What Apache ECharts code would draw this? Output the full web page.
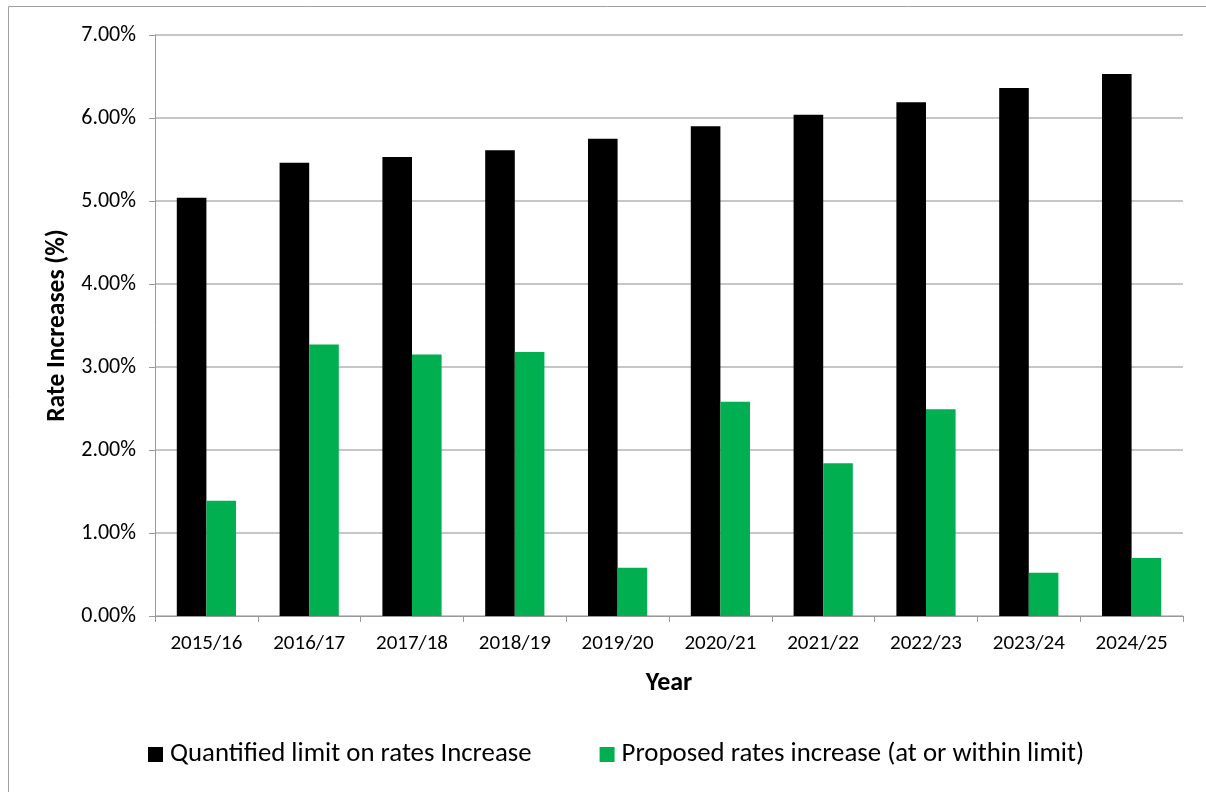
<!DOCTYPE html>
<html>
<head>
<meta charset="utf-8">
<script src="https://cdn.jsdelivr.net/npm/echarts@6/dist/echarts.min.js"></script>
<style>
  html, body { margin: 0; padding: 0; background: #fff; }
  #chart { width: 1206px; height: 792px; }
</style>
</head>
<body>
<div id="chart"></div>
<script>
// Rate increase data by financial year (values in percent)
const years = ['2015/16', '2016/17', '2017/18', '2018/19', '2019/20', '2020/21', '2021/22', '2022/23', '2023/24', '2024/25'];
const limitValues = [5.04, 5.46, 5.53, 5.61, 5.75, 5.90, 6.04, 6.19, 6.36, 6.53];
const proposedValues = [1.39, 3.27, 3.15, 3.18, 0.58, 2.58, 1.84, 2.49, 0.52, 0.70];
const seriesNames = ['Quantified limit on rates Increase', 'Proposed rates increase (at or within limit)'];

const FONT = 'Carlito, Calibri, "Open Sans", sans-serif';
const chart = echarts.init(document.getElementById('chart'), null, { renderer: 'canvas' });

chart.setOption({
  backgroundColor: '#ffffff',
  animation: false,
  graphic: [{
    type: 'rect',
    shape: { x: 8.5, y: 6.5, width: 1300, height: 900 },
    style: { fill: 'none', stroke: '#a0a0a0', lineWidth: 1 },
    silent: true
  }],
  grid: { left: 155, right: 23, top: 35, bottom: 176, containLabel: false },
  legend: {
    top: 741,
    left: 148,
    padding: 0,
    itemWidth: 15,
    itemHeight: 15,
    itemGap: 68,
    icon: 'rect',
    textStyle: { fontFamily: FONT, fontSize: 26.8, color: '#000', padding: [0, 0, 0, 2] },
    data: seriesNames
  },
  xAxis: {
    type: 'category',
    data: years,
    name: 'Year',
    nameLocation: 'middle',
    nameGap: 54,
    nameTextStyle: { fontFamily: FONT, fontSize: 26, fontWeight: 'bold', color: '#000' },
    axisLine: { lineStyle: { color: '#999', width: 1 } },
    axisTick: { show: true, length: 6, lineStyle: { color: '#999' } },
    axisLabel: { fontFamily: FONT, fontSize: 21, color: '#000', margin: 17 }
  },
  yAxis: {
    type: 'value',
    min: 0,
    max: 7,
    interval: 1,
    name: 'Rate Increases (%)',
    nameLocation: 'middle',
    nameGap: 79,
    nameTextStyle: { fontFamily: FONT, fontSize: 25.5, fontWeight: 'bold', color: '#000' },
    axisLine: { show: true, lineStyle: { color: '#999', width: 1 } },
    axisTick: { show: true, length: 6, lineStyle: { color: '#999' } },
    axisLabel: {
      fontFamily: FONT, fontSize: 22, color: '#000', margin: 19,
      formatter: v => v.toFixed(2) + '%'
    },
    splitLine: { show: true, lineStyle: { color: '#b3b3b3', width: 1.5 } }
  },
  series: [
    {
      name: seriesNames[0],
      type: 'bar',
      data: limitValues,
      itemStyle: { color: '#000000' },
      barGap: '0%',
      barCategoryGap: '42.4%'
    },
    {
      name: seriesNames[1],
      type: 'bar',
      data: proposedValues,
      itemStyle: { color: '#00b050' },
      barGap: '0%',
      barCategoryGap: '42.4%'
    }
  ]
});
</script>
</body>
</html>
